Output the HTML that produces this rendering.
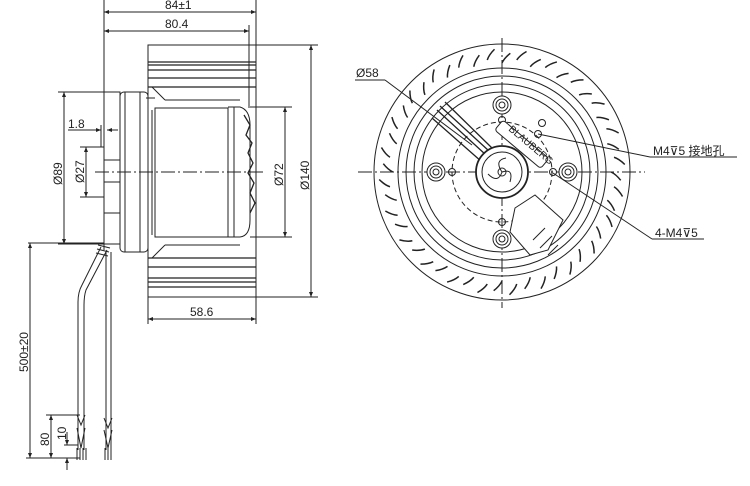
<!DOCTYPE html>
<html><head><meta charset="utf-8"><style>
html,body{margin:0;padding:0;background:#fff;width:750px;height:486px;overflow:hidden}
svg{display:block}
text{font-family:"Liberation Sans","Noto Sans CJK SC",sans-serif;font-size:12px;fill:#222}
</style></head><body>
<svg id="s" width="750" height="486" viewBox="0 0 750 486" xmlns="http://www.w3.org/2000/svg">
<defs>
<marker id="a" viewBox="0 0 10 10" refX="10" refY="5" markerWidth="7" markerHeight="5" orient="auto-start-reverse"><path d="M0,1 L10,5 L0,9 z" fill="#222"/></marker>
</defs>
<g stroke="#222" stroke-width="1" fill="none">
<line x1="104" y1="0" x2="104" y2="250"/>
<line x1="256" y1="0" x2="256" y2="45"/>
<line x1="249" y1="25" x2="249" y2="108"/>
<line x1="104" y1="12" x2="256" y2="12" marker-start="url(#a)" marker-end="url(#a)"/>
<line x1="104" y1="31" x2="249" y2="31" marker-start="url(#a)" marker-end="url(#a)"/>
<rect x="148" y="45" width="108" height="252"/>
<g stroke-width="1.2">
<line x1="148" y1="62" x2="256" y2="62"/><line x1="148" y1="65" x2="256" y2="65"/>
<line x1="148" y1="70" x2="256" y2="70"/><line x1="148" y1="78" x2="256" y2="78"/>
<line x1="148" y1="87" x2="256" y2="87"/>
<line x1="148" y1="258" x2="256" y2="258"/><line x1="148" y1="267" x2="256" y2="267"/>
<line x1="148" y1="278" x2="256" y2="278"/><line x1="148" y1="282" x2="256" y2="282"/>
<line x1="148" y1="287" x2="256" y2="287"/>
</g>
<line x1="152" y1="87" x2="165" y2="100"/><line x1="165" y1="100" x2="240" y2="100"/>
<line x1="152" y1="258" x2="165" y2="245"/><line x1="165" y1="245" x2="240" y2="245"/>
<rect x="104" y="92" width="16" height="152" fill="#fff"/>
<line x1="104" y1="160" x2="120" y2="160"/><line x1="104" y1="182" x2="120" y2="182"/>
<line x1="104" y1="213" x2="120" y2="213"/>
<rect x="120" y="92" width="28" height="160" rx="4" fill="#fff"/>
<line x1="125" y1="92" x2="125" y2="252"/><line x1="140" y1="92" x2="140" y2="252"/>
<line x1="146" y1="98" x2="155" y2="98"/>
<rect x="155" y="108" width="73" height="129" fill="#fff"/>
<line x1="152" y1="110" x2="152" y2="235"/>
<path d="M228,107 L240,107 Q250,110 250,125 L250,220 Q250,236 240,237 L228,237"/>
<line x1="234" y1="107" x2="234" y2="237"/>
<path d="M244,115 l6,10 -4,10 6,8 -4,10 5,10 -5,10 6,10 -4,10 5,10 -5,10" stroke-width="1.3"/>
<line x1="95" y1="172" x2="265" y2="172" stroke-dasharray="14,3,2,3"/>
<line x1="250" y1="107" x2="292" y2="107"/><line x1="250" y1="237" x2="292" y2="237"/>
<line x1="285" y1="107" x2="285" y2="237" marker-start="url(#a)" marker-end="url(#a)"/>
<line x1="256" y1="45" x2="318" y2="45"/><line x1="256" y1="297" x2="318" y2="297"/>
<line x1="311" y1="45" x2="311" y2="297" marker-start="url(#a)" marker-end="url(#a)"/>
<line x1="58" y1="92" x2="104" y2="92"/><line x1="58" y1="244" x2="104" y2="244"/>
<line x1="64" y1="92" x2="64" y2="244" marker-start="url(#a)" marker-end="url(#a)"/>
<line x1="80" y1="147" x2="104" y2="147"/><line x1="80" y1="197" x2="104" y2="197"/>
<line x1="86" y1="147" x2="86" y2="197" marker-start="url(#a)" marker-end="url(#a)"/>
<line x1="68" y1="130" x2="101" y2="130" marker-end="url(#a)"/>
<line x1="118" y1="130" x2="107" y2="130" marker-end="url(#a)"/>
<line x1="101" y1="125" x2="101" y2="147"/>
<line x1="148" y1="297" x2="148" y2="324"/>
<line x1="148" y1="319" x2="256" y2="319" marker-start="url(#a)" marker-end="url(#a)"/>
<line x1="256" y1="297" x2="256" y2="324"/>
<path d="M101,247 L82,285 Q78,292 78,302 L78,450"/>
<path d="M107,250 L86,290 Q84,296 84,305 L84,450"/>
<line x1="106" y1="252" x2="106" y2="450"/><line x1="111" y1="252" x2="111" y2="450"/>
<path d="M98,245 l12,3 M97,249 l12,3 M96,253 l12,3" />
<path d="M77,415 l4,10 4,-10 M77,428 l4,20 4,-20 M104,418 l4,10 4,-10 M104,430 l4,18 4,-18"/>
<path d="M77,448 v12 M80,448 v12 M83,448 v12 M86,448 v12 M105,448 v12 M108,448 v12 M111,448 v12" />
<line x1="28" y1="243" x2="104" y2="243"/>
<line x1="30" y1="243" x2="30" y2="458" marker-start="url(#a)" marker-end="url(#a)"/>
<line x1="26" y1="458" x2="80" y2="458"/>
<line x1="46" y1="415" x2="80" y2="415"/>
<line x1="51" y1="415" x2="51" y2="458" marker-start="url(#a)" marker-end="url(#a)"/>
<line x1="64" y1="445" x2="78" y2="445"/>
<line x1="67" y1="432" x2="67" y2="445" marker-end="url(#a)"/>
<line x1="67" y1="470" x2="67" y2="458" marker-end="url(#a)"/>
<!-- front view -->
<line x1="358" y1="172" x2="645" y2="172" stroke-dasharray="14,3,2,3"/>
<line x1="502" y1="38" x2="502" y2="308" stroke-dasharray="14,3,2,3"/>
<circle cx="502" cy="172" r="128"/>
<circle cx="502" cy="172" r="104"/>
<circle cx="502" cy="172" r="96"/>
<circle cx="502" cy="172" r="88"/>
<circle cx="502" cy="172" r="80"/>
<circle cx="502" cy="172" r="50" stroke-dasharray="5,3"/>
<g id="bl"></g>
<g id="bolts"></g>
<path d="M437,110 L486,155 M445,102 L492,148 M432,118 L482,162 M440,106 L489,151" stroke-width="1.3"/>
<circle cx="502" cy="172" r="26" stroke-width="1.8" fill="#fff"/>
<circle cx="502" cy="172" r="20"/>
<path d="M502,172 q-8,-12 4,-14 M502,172 q12,-4 8,10 M502,172 q-4,12 -14,2" />
<circle cx="502" cy="172" r="4"/>
<path d="M510,232 L515,208 L535,195 L563,220 L548,250 L530,255 Z" fill="#fff"/>
<path d="M533,240 l12,-12 M540,248 l12,-12 M548,255 l10,-10"/>
<rect x="503" y="120" width="60" height="13" rx="3" transform="rotate(40 503 120)" fill="#fff"/>
<text x="508" y="130" transform="rotate(40 508 130)" style="font-size:10px;stroke:none">BLAUBERG</text>
<line x1="355" y1="80" x2="385" y2="80"/><line x1="385" y1="80" x2="472" y2="145"/>
<line x1="538" y1="134" x2="650" y2="157"/><line x1="650" y1="157" x2="737" y2="157"/>
<line x1="553" y1="173" x2="652" y2="239"/><line x1="652" y1="239" x2="704" y2="239"/>
</g>
<text x="165" y="9">84±1</text>
<text x="165" y="28">80.4</text>
<text x="68" y="128">1.8</text>
<text x="190" y="316">58.6</text>
<text transform="translate(62 185) rotate(-90)">Ø89</text>
<text transform="translate(84 183) rotate(-90)">Ø27</text>
<text transform="translate(283 186) rotate(-90)">Ø72</text>
<text transform="translate(309 190) rotate(-90)">Ø140</text>
<text transform="translate(28 372) rotate(-90)">500±20</text>
<text transform="translate(49 446) rotate(-90)">80</text>
<text transform="translate(66 440) rotate(-90)">10</text>
<text x="356" y="77">Ø58</text>
<text x="653" y="155">M4⊽5  接地孔</text>
<text x="655" y="237">4-M4⊽5</text>
<script>
var ns="http://www.w3.org/2000/svg",g=document.getElementById("bl"),cx=502,cy=172;
for(var i=0;i<48;i++){var t=i/48*2*Math.PI,r1=(i%2?113:109),r2=r1+10,t2=t+0.07,tm=t+0.02;
var p=document.createElementNS(ns,"path");
var rm=(r1+r2)/2;
p.setAttribute("d","M"+(cx+r1*Math.cos(t))+","+(cy+r1*Math.sin(t))+" Q"+(cx+rm*Math.cos(tm))+","+(cy+rm*Math.sin(tm))+" "+(cx+r2*Math.cos(t2))+","+(cy+r2*Math.sin(t2)));
p.setAttribute("stroke-width","1.5");g.appendChild(p);}
var b=document.getElementById("bolts");
[[502,105],[502,239],[436,172],[568,172]].forEach(function(c){
[9,6,3].forEach(function(r){var e=document.createElementNS(ns,"circle");e.setAttribute("cx",c[0]);e.setAttribute("cy",c[1]);e.setAttribute("r",r);e.setAttribute("fill","#fff");b.appendChild(e);});});
[[502,120],[452,172],[553,172],[502,222],[538,134],[542,123]].forEach(function(c){var e=document.createElementNS(ns,"circle");e.setAttribute("cx",c[0]);e.setAttribute("cy",c[1]);e.setAttribute("r",3.5);b.appendChild(e);});
</script>
</svg>
</body></html>
